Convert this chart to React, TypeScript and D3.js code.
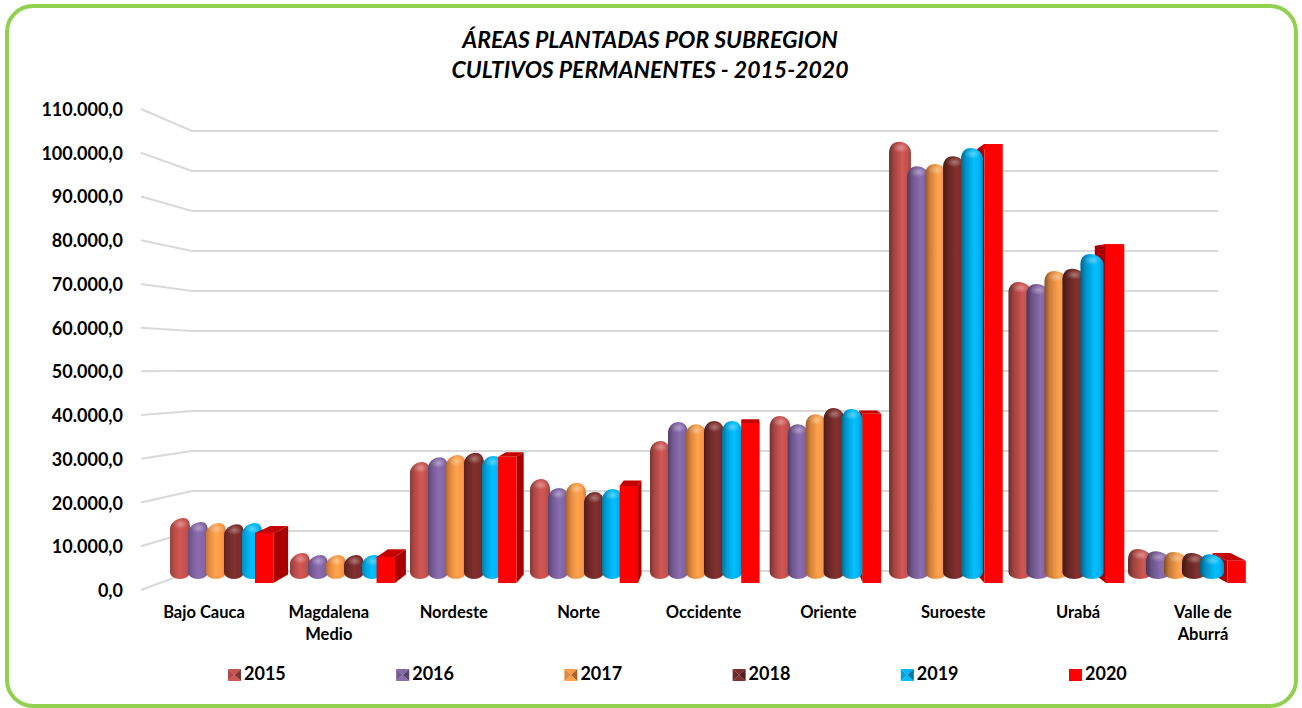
import React from 'react';
import * as d3 from 'd3';

const width = 1302;
const height = 708;

const categories = ['Bajo Cauca', 'Magdalena Medio', 'Nordeste', 'Norte', 'Occidente', 'Oriente', 'Suroeste', 'Urabá', 'Valle de Aburrá'];
const categoryLines = [['Bajo Cauca'], ['Magdalena', 'Medio'], ['Nordeste'], ['Norte'], ['Occidente'], ['Oriente'], ['Suroeste'], ['Urabá'], ['Valle de', 'Aburrá']];
const years = ['2015', '2016', '2017', '2018', '2019', '2020'];
const colors = ['#c0504d', '#8064a2', '#f79646', '#772c2a', '#00b0f0', '#ff0000'];
const ticks = [0, 10000, 20000, 30000, 40000, 50000, 60000, 70000, 80000, 90000, 100000, 110000];

const v2015 = [14000, 6000, 26900, 23000, 31700, 37500, 100500, 68300, 6900];
const v2016 = [13100, 5500, 28000, 20900, 36100, 35600, 94900, 67800, 6400];
const v2017 = [12900, 5500, 28500, 22100, 35600, 37900, 95400, 70800, 6200];
const v2018 = [12600, 5500, 29000, 20000, 36300, 39300, 97200, 71300, 6000];
const v2019 = [12900, 5500, 28300, 20700, 36300, 39100, 99100, 74700, 5700];
const v2020 = [11500, 6000, 29000, 22300, 36800, 38900, 100900, 77900, 5100];
const cylinderSeries = [v2015, v2016, v2017, v2018, v2019];

// axis on the front edge of the floor and on the back wall
const yFront = d3.scaleLinear().domain([0, 110000]).range([590, 109]);
const yBack = d3.scaleLinear().domain([0, 110000]).range([571, 131]);
// the bars stand somewhere in between
const yCyl = d3.scaleLinear().domain([0, 110000]).range([579, 100.5]);
const yBox = d3.scaleLinear().domain([0, 110000]).range([583, 104.5]);

const xCat = d3.scaleBand().domain(categories).range([170, 1250]);
const xYear = d3.scaleBand().domain(years.slice(0, 5)).range([0, 90]);
const xBox = d3.scaleBand().domain(categories).range([255, 1349]);
const xLabel = d3.scalePoint().domain(categories).range([204, 1203]);
const xLegend = d3.scalePoint().domain(years).range([228, 1069]);

const edgeDark = d3.scaleLinear().domain([0, 8]).range([0.35, 1.5]);
const highlightPos = d3.scaleLinear().domain([0, 8]).range([50, 64]);
const extraWidth = d3.scaleLinear().domain([750, 1140]).range([0, 4]).clamp(true);

// perspective of the 3D boxes
const vpX = 748;
const vpY = 307;
const depth = 0.031;
const back = (x: number, y: number): [number, number] => [x + (vpX - x) * depth, y + (vpY - y) * depth];
const poly = (pts: [number, number][]) => d3.line()(pts) + 'Z';

const font = 'Lato, "Open Sans", sans-serif';
const fmt = (v: number) => d3.format(',.1f')(v).replace(/,/g, '#').replace('.', ',').replace(/#/g, '.');

const cylinderPath = (x: number, w: number, top: number, base: number) => {
  const h = base - top;
  const r = Math.min(10.5, h * 0.42);
  const rb = 7;
  const cx = x + w / 2;
  const peak = cx + (vpX - cx) * 0.006;
  const p = d3.path();
  p.moveTo(x, base - rb);
  p.lineTo(x, top + r);
  p.bezierCurveTo(x, top + r * 0.45, peak - w * 0.28, top, peak, top);
  p.bezierCurveTo(peak + w * 0.28, top, x + w, top + r * 0.45, x + w, top + r);
  p.lineTo(x + w, base - rb);
  p.bezierCurveTo(x + w, base - rb * 0.45, x + w * 0.78, base, cx, base);
  p.bezierCurveTo(x + w * 0.22, base, x, base - rb * 0.45, x, base - rb);
  p.closePath();
  return p.toString();
};

const boxWidth = 18.4;

// the side goes under the cylinders, the top and front over them
const BoxSide = ({category, value}: {category: string; value: number}) => {
  const x0 = xBox(category) as number;
  const x1 = x0 + boxWidth;
  const top = yBox(value);
  const base = yBox(0);
  const sideX = x1 < vpX ? x1 : x0;
  const [bx, by] = back(sideX, top);
  const [, bby] = back(sideX, base);
  return <path d={poly([[sideX, top], [bx, by], [bx, bby], [sideX, base]])} fill="#a80000" />;
};

const BoxFront = ({category, value}: {category: string; value: number}) => {
  const x0 = xBox(category) as number;
  const x1 = x0 + boxWidth;
  const top = yBox(value);
  const base = yBox(0);
  const [tlx, tly] = back(x0, top);
  const [trx] = back(x1, top);
  return (
    <g>
      <path d={poly([[x0, top], [tlx, tly], [trx, tly], [x1, top]])} fill="#c40000" />
      <rect x={x0} y={top} width={boxWidth} height={base - top} fill="#ff0000" />
    </g>
  );
};

const LegendMark = ({x, color}: {x: number; color: string}) => {
  const w = 13;
  const h = 12;
  const y = 669;
  const c: [number, number] = [x + w / 2, y + h / 2];
  const base = d3.color(color) as d3.RGBColor;
  return (
    <g>
      <path d={poly([[x, y], [x + w, y], c])} fill={base.brighter(0.1).toString()} />
      <path d={poly([[x, y + h], [x + w, y + h], c])} fill={base.brighter(0.2).toString()} />
      <path d={poly([[x, y], [x, y + h], c])} fill={base.darker(0.25).toString()} />
      <path d={poly([[x + w, y], [x + w, y + h], c])} fill={base.darker(1.1).toString()} />
    </g>
  );
};

export default function App() {
  return (
    <svg width={width} height={height} style={{position: 'absolute', left: 0, top: 0}} fontFamily={font}>
      <defs>
        {categories.map((c, ci) =>
          cylinderSeries.map((_, si) => {
            const base = d3.color(colors[si]) as d3.RGBColor;
            return (
              <linearGradient key={`${ci}-${si}`} id={`cyl-${ci}-${si}`} x1="0" x2="1" y1="0" y2="0">
                <stop offset="0%" stopColor={base.darker(edgeDark(ci) + 0.3).toString()} />
                <stop offset="22%" stopColor={base.darker(edgeDark(ci) * 0.4).toString()} />
                <stop offset={`${highlightPos(ci)}%`} stopColor={base.brighter(0.25).toString()} />
                <stop offset="85%" stopColor={base.toString()} />
                <stop offset="100%" stopColor={base.darker(0.6).toString()} />
              </linearGradient>
            );
          })
        )}
        <radialGradient id="cap">
          <stop offset="0%" stopColor="#fff" stopOpacity="0.35" />
          <stop offset="100%" stopColor="#fff" stopOpacity="0" />
        </radialGradient>
      </defs>

      <rect x={7} y={6} width={1289} height={700} rx={26} ry={26} fill="#fff" stroke="#92d050" strokeWidth={4} />

      <g fontSize={23} fontWeight={700} fontStyle="italic" textAnchor="middle" fill="#000">
        <text x={650} y={48}>ÁREAS PLANTADAS POR SUBREGION</text>
        <text x={650} y={78}>CULTIVOS PERMANENTES - 2015-2020</text>
      </g>

      <g stroke="#d9d9d9" strokeWidth={2} fill="none">
        {ticks.map(t => (
          <path key={t} d={d3.line()([[141, yFront(t)], [192, yBack(t)], [1218, yBack(t)]]) as string} />
        ))}
      </g>

      <g fontSize={18} fontWeight={700} textAnchor="end" fill="#000">
        {ticks.map(t => (
          <text key={t} x={123} y={yFront(t) + 7}>{fmt(t)}</text>
        ))}
      </g>

      {categories.map((c, ci) => (
        <g key={c}>
          <BoxSide category={c} value={v2020[ci]} />
          {cylinderSeries.map((series, si) => {
            const extra = extraWidth((xCat(c) as number) + 45);
            const w = xYear.bandwidth() + 2 + extra;
            const x = (xCat(c) as number) + (xYear(years[si]) as number) - extra / 2;
            const top = yCyl(series[ci]);
            const base = yCyl(0);
            return (
              <g key={si}>
                <path d={cylinderPath(x, w, top, base)} fill={`url(#cyl-${ci}-${si})`} />
                <ellipse cx={x + w * 0.52} cy={top + 6} rx={w * 0.38} ry={5} fill="url(#cap)" />
              </g>
            );
          })}
          <BoxFront category={c} value={v2020[ci]} />
        </g>
      ))}

      <g fontSize={16.5} fontWeight={700} textAnchor="middle" fill="#000">
        {categories.map((c, ci) => (
          <text key={c} x={xLabel(c)} y={618}>
            {categoryLines[ci].map((line, li) => (
              <tspan key={line} x={xLabel(c)} dy={li === 0 ? 0 : 22}>{line}</tspan>
            ))}
          </text>
        ))}
      </g>

      <g fontSize={18} fontWeight={700} fill="#000">
        {years.map((y, i) => (
          <g key={y}>
            {i < 5
              ? <LegendMark x={xLegend(y) as number} color={colors[i]} />
              : <rect x={xLegend(y)} y={669} width={13} height={12} fill={colors[i]} />}
            <text x={(xLegend(y) as number) + 16} y={680}>{y}</text>
          </g>
        ))}
      </g>
    </svg>
  );
}
